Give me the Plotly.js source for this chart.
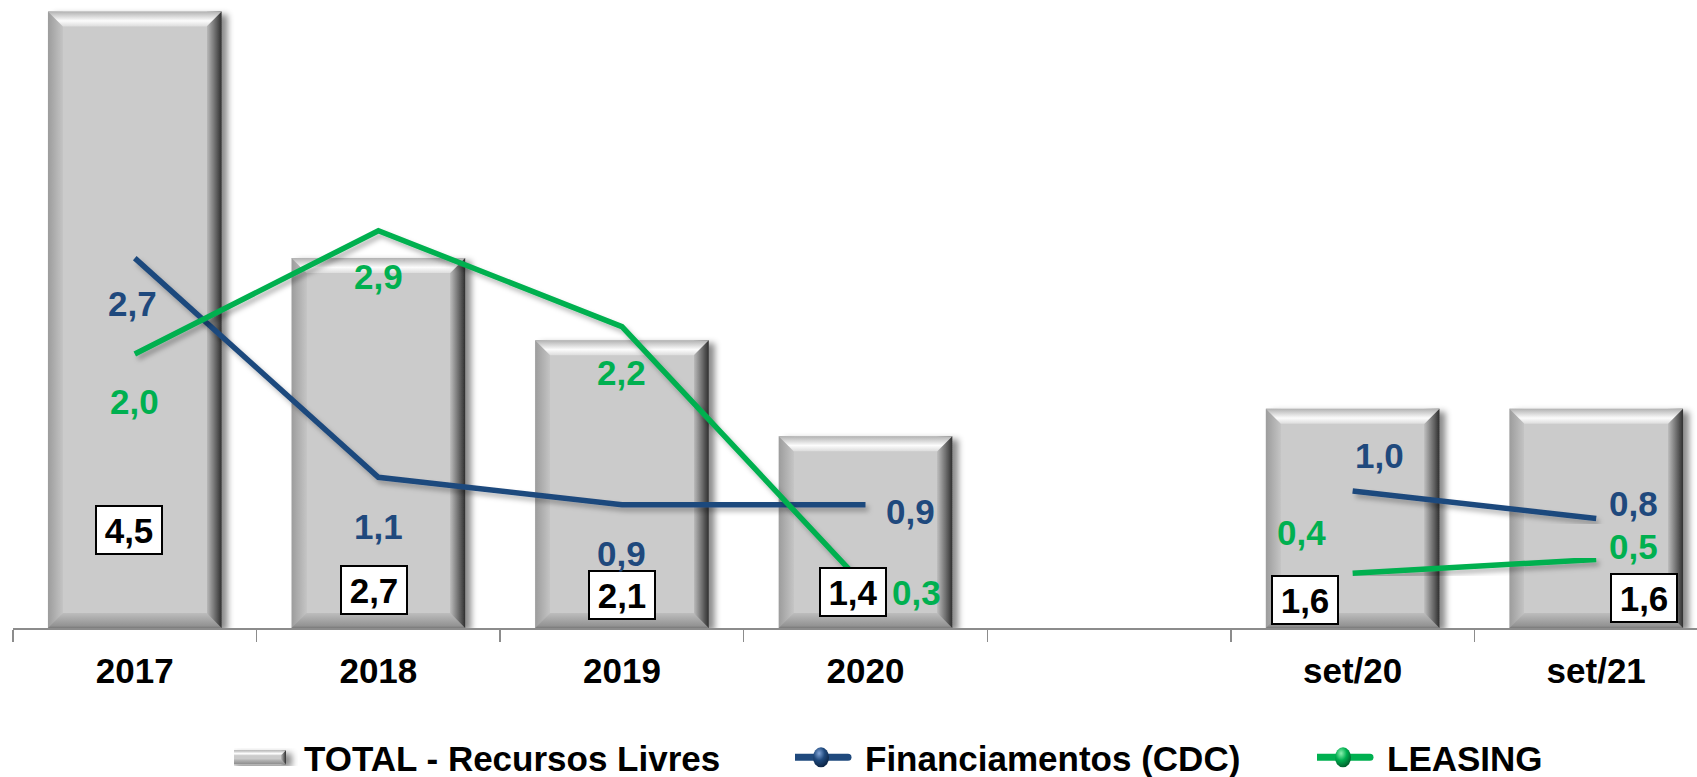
<!DOCTYPE html>
<html><head><meta charset="utf-8">
<script src="https://cdn.plot.ly/plotly-3.0.1.min.js"></script>
<style>
html,body{margin:0;padding:0;background:#fff;overflow:hidden;width:1697px;height:777px}
#chart{width:1718px;height:777px}
</style>
</head><body><div id="chart"></div>
<script>
// ---------------- data ----------------
const categories = ['2017', '2018', '2019', '2020', ' ', 'set/20', 'set/21'];
const totalRecursosLivres = [4.5, 2.7, 2.1, 1.4, null, 1.6, 1.6];
const financiamentosCDC = [2.7, 1.1, 0.9, 0.9, null, 1.0, 0.8];
const leasing = [2.0, 2.9, 2.2, 0.3, null, 0.4, 0.5];
const seriesNames = ['TOTAL - Recursos Livres', 'Financiamentos (CDC)', 'LEASING'];

// ---------------- label placement (pixel offsets) ----------------
const totalLabelDX = [-6, -4, 0, -13, 0, -48, 48];
const totalLabelDY = [98, 38, 33, 36, 0, 28, 30];
const cdcLabelDX = [-2, 0, 0, 45, 0, 27, 37];
const cdcLabelDY = [-45, -49, -49, -7, 0, 36, 15];
const leasingLabelDX = [0, 0, 0, 51, 0, -51, 37];
const leasingLabelDY = [-47, -46, -46, -6, 0, 41, 13];

// ---------------- styles ----------------
const BLUE = '#1F497D';
const GREEN = '#00B050';
const FONT = '"Liberation Sans", Arial, sans-serif';
const FS = 35;
const fmt = v => v.toFixed(1).replace('.', ',');

const traces = [
  {type: 'bar', name: seriesNames[0], x: categories, y: totalRecursosLivres,
   marker: {color: '#CCCCCC', line: {width: 0}}, hoverinfo: 'skip', legend: 'legend'},
  {type: 'scatter', mode: 'lines', name: seriesNames[1], x: categories, y: financiamentosCDC,
   line: {color: BLUE, width: 5.5}, connectgaps: false, cliponaxis: false, hoverinfo: 'skip', legend: 'legend2'},
  {type: 'scatter', mode: 'lines', name: seriesNames[2], x: categories, y: leasing,
   line: {color: GREEN, width: 5.5}, connectgaps: false, cliponaxis: false, hoverinfo: 'skip', legend: 'legend3'}
];

// annotations use the category index (numeric-looking category names are read as indices)
const annotations = [];
categories.forEach((c, i) => {
  if (totalRecursosLivres[i] != null) {
    annotations.push({x: i, y: 0, xref: 'x', yref: 'y', text: fmt(totalRecursosLivres[i]), showarrow: false,
      xshift: totalLabelDX[i], yshift: totalLabelDY[i], xanchor: 'center', yanchor: 'middle',
      bgcolor: '#FFFFFF', bordercolor: '#000000', borderwidth: 2, borderpad: 1, width: 62, height: 44,
      font: {family: FONT, size: FS, weight: 'bold', color: '#000000'}});
  }
  if (financiamentosCDC[i] != null) {
    annotations.push({x: i, y: financiamentosCDC[i], xref: 'x', yref: 'y', text: fmt(financiamentosCDC[i]), showarrow: false,
      xshift: cdcLabelDX[i], yshift: cdcLabelDY[i], xanchor: 'center', yanchor: 'middle',
      font: {family: FONT, size: FS, weight: 'bold', color: BLUE}});
  }
  if (leasing[i] != null) {
    annotations.push({x: i, y: leasing[i], xref: 'x', yref: 'y', text: fmt(leasing[i]), showarrow: false,
      xshift: leasingLabelDX[i], yshift: leasingLabelDY[i], xanchor: 'center', yanchor: 'middle',
      font: {family: FONT, size: FS, weight: 'bold', color: GREEN}});
  }
});

const legendFont = {family: FONT, size: FS, weight: 'bold', color: '#000000'};
const legendBase = {orientation: 'h', xref: 'container', yref: 'container', xanchor: 'left', yanchor: 'middle',
  y: 0.025, font: legendFont, itemwidth: 60, bgcolor: 'rgba(0,0,0,0)', borderwidth: 0};

const layout = {
  width: 1718, height: 777,
  margin: {l: 13, r: 0, t: 0, b: 149, pad: 0},
  paper_bgcolor: '#FFFFFF', plot_bgcolor: '#FFFFFF',
  font: {family: FONT, size: FS, color: '#000000'},
  bargap: 0.287,
  showlegend: true,
  xaxis: {type: 'category', categoryorder: 'array', categoryarray: categories, range: [-0.5, 6.5],
    showline: true, linecolor: '#8C8C8C', linewidth: 2, ticks: 'outside', tickson: 'boundaries',
    ticklen: 12, tickcolor: '#8C8C8C', tickwidth: 1.5, showgrid: false, zeroline: false,
    ticklabelstandoff: 11,
    tickfont: {family: FONT, size: FS, weight: 'bold', color: '#000000'}, fixedrange: true},
  yaxis: {range: [0, 628 / 137], visible: false, fixedrange: true},
  legend: Object.assign({}, legendBase, {x: 234 / 1718}),
  legend2: Object.assign({}, legendBase, {x: 795 / 1718}),
  legend3: Object.assign({}, legendBase, {x: 1317 / 1718}),
  annotations: annotations
};

// ---------------- SVG decoration helpers ----------------
const NS = 'http://www.w3.org/2000/svg';
function el(tag, attrs, parent) {
  const e = document.createElementNS(NS, tag);
  for (const k in attrs) e.setAttribute(k, attrs[k]);
  if (parent) parent.appendChild(e);
  return e;
}
function linGrad(defs, id, x1, y1, x2, y2, stops) {
  const g = el('linearGradient', {id: id, gradientUnits: 'userSpaceOnUse', x1: x1, y1: y1, x2: x2, y2: y2}, defs);
  stops.forEach(s => el('stop', {offset: s[0], 'stop-color': s[1]}, g));
  return g;
}
function bevelParts(defs, parent, id, x, y, w, h, b) {
  linGrad(defs, id + 'h', x, 0, x + w, 0, [
    [0, '#9c9c9c'], [b / w, '#c4c4c4'], [b / w + 0.0005, '#cbcbcb'],
    [1 - b / w - 0.0005, '#cbcbcb'], [1 - b / w, '#bcbcbc'], [1, '#2f2f2f']]);
  linGrad(defs, id + 't', 0, y, 0, y + b, [[0, '#b2b2b2'], [0.62, '#fcfcfc'], [1, '#dcdcdc']]);
  linGrad(defs, id + 'b', 0, y + h - b, 0, y + h, [[0, '#bdbdbd'], [0.85, '#939393'], [1, '#7a7a7a']]);
  el('polygon', {points: `${x},${y} ${x + w},${y} ${x + w - b},${y + b} ${x + b},${y + b}`,
    fill: `url(#${id}t)`}, parent);
  el('polygon', {points: `${x},${y + h} ${x + w},${y + h} ${x + w - b},${y + h - b} ${x + b},${y + h - b}`,
    fill: `url(#${id}b)`}, parent);
}

function decorate(gd) {
  const svgs = gd.querySelectorAll('svg.main-svg');
  const svg = svgs[0];
  let defs = svg.querySelector('defs');
  if (!defs) defs = el('defs', {}, svg);
  const f1 = el('filter', {id: 'barShadow', x: '-20%', y: '-10%', width: '140%', height: '120%'}, defs);
  el('feDropShadow', {dx: 6, dy: 3, stdDeviation: 3, 'flood-color': '#000', 'flood-opacity': 0.45}, f1);
  const f2 = el('filter', {id: 'lineShadow', x: '-10%', y: '-10%', width: '120%', height: '130%'}, defs);
  el('feDropShadow', {dx: 3, dy: 4, stdDeviation: 2.5, 'flood-color': '#000', 'flood-opacity': 0.28}, f2);

  // bars
  gd.querySelectorAll('g.barlayer g.point path').forEach((p, i) => {
    const bb = p.getBBox();
    if (bb.height <= 0) return;
    const id = 'bar' + i;
    const b = 15;
    bevelParts(defs, p.parentNode, id, bb.x, bb.y, bb.width, bb.height, b);
    p.style.fill = `url(#${id}h)`;
    p.setAttribute('filter', 'url(#barShadow)');
  });
  // lines
  gd.querySelectorAll('g.scatterlayer path.js-line').forEach(p => p.setAttribute('filter', 'url(#lineShadow)'));

  // legend symbols
  gd.querySelectorAll('g.traces').forEach((g, k) => {
    try {
      const d = g.__data__ && g.__data__[0];
      const tr = d && d.trace;
      if (!tr) return;
      const txt = g.querySelector('text.legendtext') || g.querySelector('text');
      let tx = 70;
      if (txt && txt.getAttribute('x') != null) tx = parseFloat(txt.getAttribute('x')) || 70;
      g.querySelectorAll('g.legendpoints, g.legendlines, g.legendfill, g.legendsymbols').forEach(n => n.style.display = 'none');
      const grp = el('g', {}, g);
      if (tr.type === 'bar') {
        const x1 = tx - 18, x0 = x1 - 57;
        const id = 'legbar' + k;
        const r = el('rect', {x: x0, y: -7, width: 57, height: 14}, grp);
        bevelParts(defs, grp, id, x0, -7, 57, 14, 5);
        r.setAttribute('fill', `url(#${id}h)`);
        r.setAttribute('filter', 'url(#barShadow)');
      } else {
        const x1 = tx - 13, x0 = x1 - 62;
        const col = tr.line.color;
        const light = col === BLUE ? '#7fa3d6' : '#8df0b0';
        const dark = col === BLUE ? '#0d2647' : '#00612c';
        const rg = el('radialGradient', {id: 'sph' + k, cx: '38%', cy: '30%', r: '70%'}, defs);
        el('stop', {offset: 0, 'stop-color': light}, rg);
        el('stop', {offset: 0.5, 'stop-color': col}, rg);
        el('stop', {offset: 1, 'stop-color': dark}, rg);
        el('line', {x1: x0 + 4, y1: 0, x2: x1 - 4, y2: 0, stroke: col, 'stroke-width': 7, 'stroke-linecap': 'round'}, grp);
        el('ellipse', {cx: (x0 + x1) / 2, cy: 0, rx: 8, ry: 10, fill: `url(#sph${k})`}, grp);
      }
    } catch (e) { /* keep default legend symbol */ }
  });
}

Plotly.newPlot('chart', traces, layout, {displayModeBar: false, staticPlot: true}).then(decorate);
</script>
</body></html>
